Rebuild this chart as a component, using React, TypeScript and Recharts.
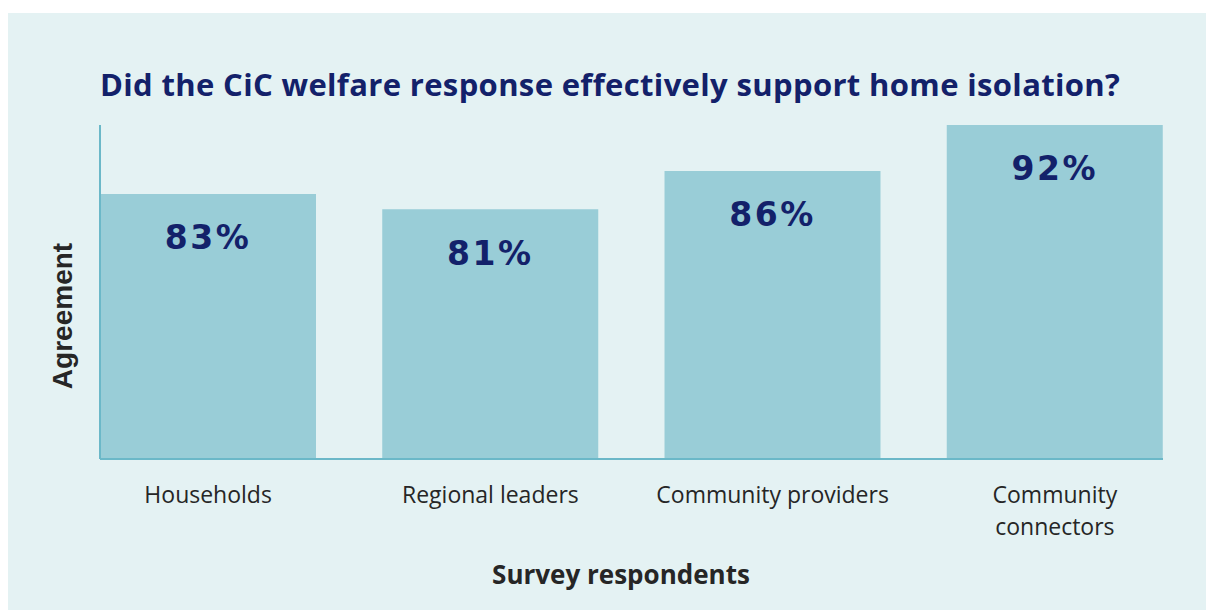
import { Bar, BarChart, LabelList, XAxis, YAxis } from 'recharts';

const categories = ['Households', 'Regional leaders', 'Community providers', 'Community connectors'];
const tickLabels = ['Households', 'Regional leaders', 'Community providers', 'Community\nconnectors'];
const agreement = [83, 81, 86, 92];

const data = categories.map((name, i) => ({
  name,
  agreement: agreement[i],
}));

const BG = '#e4f2f3';
const BAR = '#99cdd7';
const AXIS = '#6bb8c8';
const NAVY = '#13216a';
const INK = '#262626';

function CategoryTick({ x, y, payload, index }: any) {
  const lines = String(tickLabels[index] ?? payload.value).split('\n');
  return (
    <text
      x={x}
      y={y}
      textAnchor="middle"
      fill={INK}
      fontSize={23}
      fontFamily="'Open Sans', sans-serif"
    >
      {lines.map((line, i) => (
        <tspan key={i} x={x} dy={i === 0 ? 44 : 32}>
          {line}
        </tspan>
      ))}
    </text>
  );
}

export default function App() {
  // fixed panel so nothing overflows the page and no scrollbars show
  return (
    <div
      style={{
        position: 'fixed',
        left: 8,
        top: 13,
        right: 0,
        bottom: 0,
        background: BG,
        overflow: 'hidden',
      }}
    >
      <div
        style={{
          position: 'absolute',
          left: 92,
          top: 51,
          fontFamily: "'Open Sans', sans-serif",
          fontWeight: 700,
          fontSize: 31,
          letterSpacing: 0.35,
          lineHeight: '40px',
          color: NAVY,
          whiteSpace: 'nowrap',
        }}
      >
        Did the CiC welfare response effectively support home isolation?
      </div>
      <div
        style={{
          position: 'absolute',
          left: 55,
          top: 303,
          transform: 'translate(-50%, -50%) rotate(-90deg)',
          fontFamily: "'Liberation Sans', Arial, sans-serif",
          fontWeight: 700,
          fontSize: 28,
          color: INK,
          whiteSpace: 'nowrap',
        }}
      >
        Agreement
      </div>
      <div
        style={{
          position: 'absolute',
          left: 613,
          top: 561,
          transform: 'translate(-50%, -50%)',
          fontFamily: "'Open Sans', sans-serif",
          fontWeight: 700,
          fontSize: 26,
          color: INK,
          whiteSpace: 'nowrap',
        }}
      >
        Survey respondents
      </div>
      <div style={{ position: 'absolute', left: 0, top: 0 }}>
        <BarChart
          width={1198}
          height={597}
          data={data}
          margin={{ top: 112, right: 43, bottom: 91, left: 82 }}
          barCategoryGap={33}
        >
          <XAxis
            dataKey="name"
            height={60}
            padding={{ left: -33, right: -33 }}
            axisLine={{ stroke: AXIS, strokeWidth: 2 }}
            tickLine={false}
            tickSize={0}
            tickMargin={0}
            interval={0}
            tick={<CategoryTick />}
          />
          <YAxis
            width={10}
            domain={[48.4, 92]}
            allowDataOverflow
            axisLine={{ stroke: AXIS, strokeWidth: 2 }}
            tickLine={false}
            tick={false}
          />
          <Bar dataKey="agreement" fill={BAR} isAnimationActive={false}>
            <LabelList
              dataKey="agreement"
              position="insideTop"
              offset={32}
              formatter={(v: any) => `${v}%`}
              fill={NAVY}
              fontSize={33}
              fontWeight={700}
              fontFamily="'DejaVu Sans', sans-serif"
              letterSpacing={2.5}
            />
          </Bar>
        </BarChart>
      </div>
    </div>
  );
}
